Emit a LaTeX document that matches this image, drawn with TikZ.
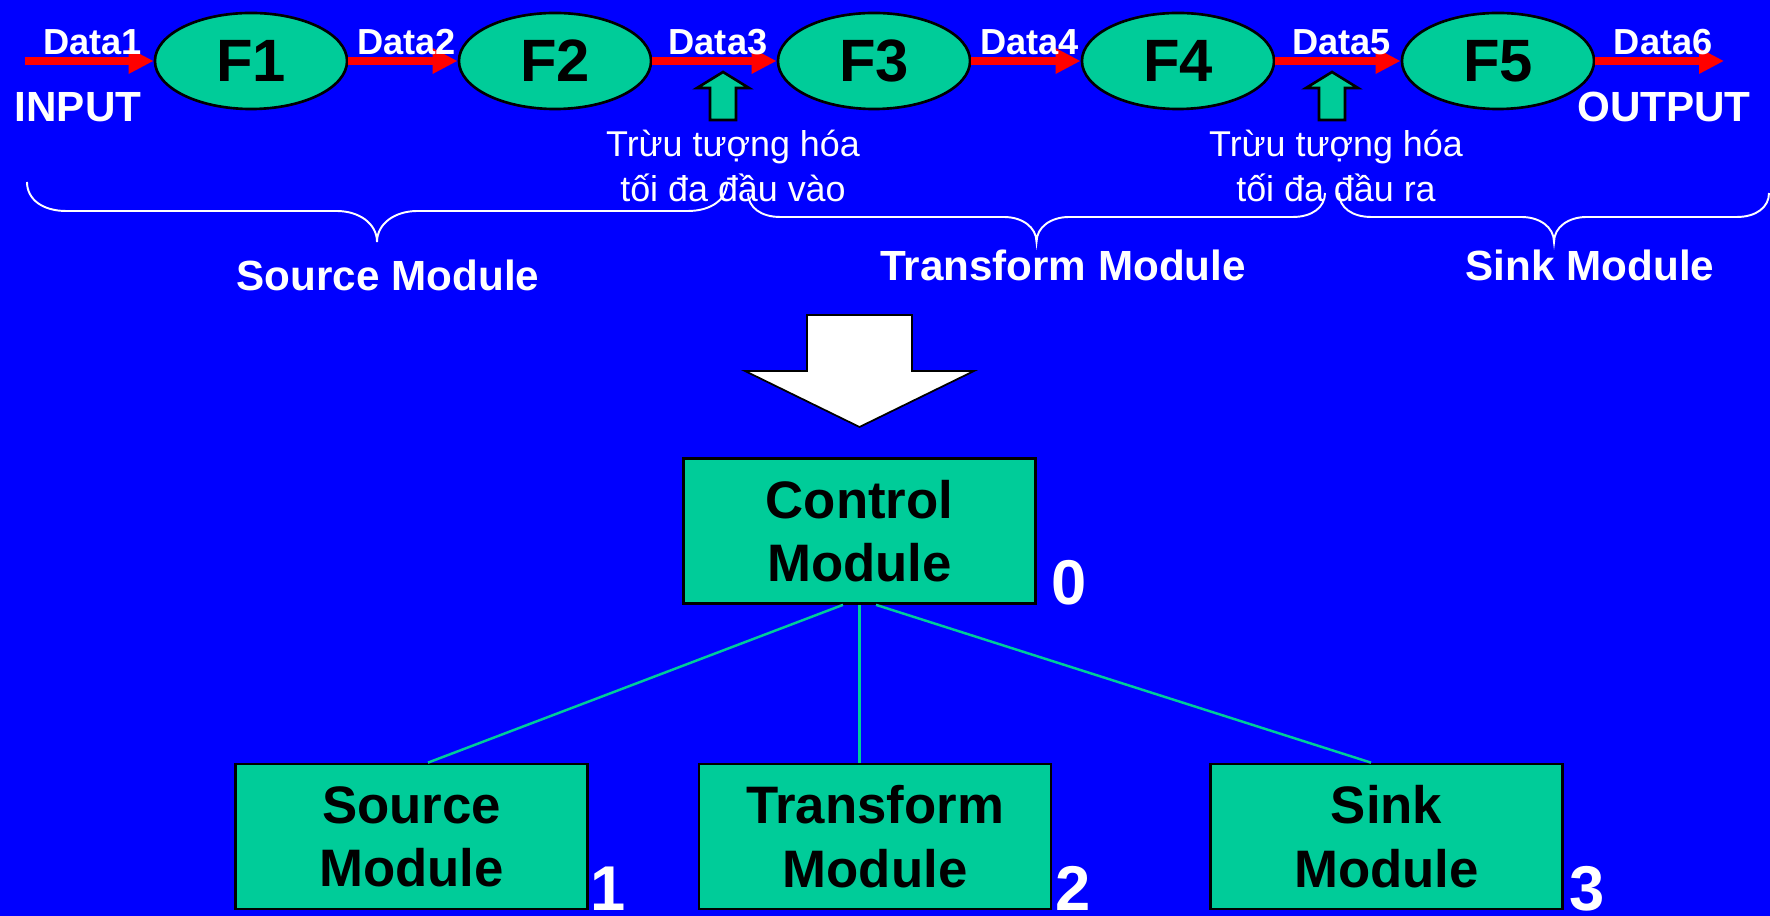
\documentclass[tikz,border=0pt]{standalone}
\usepackage{fontspec}
\setmainfont{Liberation Sans}
\usetikzlibrary{shapes.geometric,arrows.meta,calc}

\definecolor{slideblue}{RGB}{0,0,255}
\definecolor{modgreen}{RGB}{0,204,153}

\tikzset{
  func/.style={ellipse, draw=black, line width=0.75pt, fill=modgreen,
    minimum width=1.92cm, minimum height=0.96cm, inner sep=0pt,
    font=\bfseries\fontsize{17}{20}\selectfont},
  flow/.style={draw=red, line width=2.3pt, -{Triangle[length=7.1pt,width=6.8pt]}},
  datalbl/.style={midway, anchor=south, inner sep=0pt, yshift=0.6pt, xshift=1pt,
    text=white, font=\bfseries\fontsize{10.3}{12}\selectfont},
  iolbl/.style={text=white, inner sep=0pt, font=\bfseries\fontsize{12}{14}\selectfont},
  hintarrow/.style={draw=black, line width=0.75pt, fill=modgreen},
  hint/.style={text=white, align=center, inner sep=0pt,
    font=\fontsize{10.2}{12.8}\selectfont},
  brace line/.style={draw=white, line width=0.55pt},
  modlbl/.style={text=white, inner sep=0pt, font=\bfseries\fontsize{12}{14}\selectfont},
  bigarrow/.style={draw=black, line width=0.5pt, fill=white},
  modbox/.style={rectangle, draw=black, line width=0.75pt, fill=modgreen,
    minimum width=3.52cm, minimum height=1.45cm, align=center, inner sep=0pt,
    font=\bfseries\fontsize{15}{18}\selectfont},
  levelno/.style={anchor=base west, text=white, inner sep=0pt,
    font=\bfseries\fontsize{18}{20}\selectfont},
  link/.style={draw=modgreen, line width=0.7pt}
}

% curly brace under a group of functions: left x, right x, end y, line y, tip y
\newcommand{\modbrace}[5]{%
  \pgfmathsetmacro{\brmid}{(#1+#2)/2}%
  \pgfmathsetmacro{\brend}{1.35*(#4-#3)}%
  \pgfmathsetmacro{\brtip}{1.3*(#5-#4)}%
  \draw[brace line] (#1,#3)
    .. controls (#1,{#3+0.6*(#4-#3)}) and ({#1+0.4*\brend},#4) .. ({#1+\brend},#4)
    -- ({\brmid-\brtip},#4)
    .. controls ({\brmid-0.45*\brtip},#4) and (\brmid,{#4+0.4*(#5-#4)}) .. (\brmid,#5)
    .. controls (\brmid,{#4+0.4*(#5-#4)}) and ({\brmid+0.45*\brtip},#4) .. ({\brmid+\brtip},#4)
    -- ({#2-\brend},#4)
    .. controls ({#2-0.4*\brend},#4) and (#2,{#3+0.6*(#4-#3)}) .. (#2,#3);
}

\begin{document}
\begin{tikzpicture}[x=0.01cm, y=-0.01cm]
  \fill[slideblue] (0,0) rectangle (1770,916);
  \useasboundingbox (0,0) rectangle (1770,916);

  % data flow through the functions
  \node[func] (f1) at (251,61) {F1};
  \node[func] (f2) at (555,61) {F2};
  \node[func] (f3) at (874,61) {F3};
  \node[func] (f4) at (1178,61) {F4};
  \node[func] (f5) at (1498,61) {F5};
  \coordinate (inp) at (25,61);
  \coordinate (outp) at (1724,61);

  \draw[flow] (inp) -- (f1) node[datalbl] {Data1};
  \draw[flow] (f1) -- (f2) node[datalbl] {Data2};
  \draw[flow] (f2) -- (f3) node[datalbl] {Data3};
  \draw[flow] (f3) -- (f4) node[datalbl] {Data4};
  \draw[flow] (f4) -- (f5) node[datalbl] {Data5};
  \draw[flow] (f5) -- (outp) node[datalbl] {Data6};

  \node[iolbl] (input) at (78,107) {INPUT};
  \node[iolbl] (output) at (1664,107) {OUTPUT};

  % points of highest abstraction
  \foreach \ux in {723,1332}
    \draw[hintarrow] ({\ux-13},120) -- ({\ux-13},88) -- ({\ux-26},88) -- (\ux,72)
      -- ({\ux+26},88) -- ({\ux+13},88) -- ({\ux+13},120) -- cycle;
  \node[hint] (absin) at (733,166) {Trừu tượng hóa\\tối đa đầu vào};
  \node[hint] (absout) at (1336,166) {Trừu tượng hóa\\tối đa đầu ra};

  % grouping into modules
  \modbrace{27}{727}{182}{211}{242}
  \modbrace{748}{1325}{193}{217}{242}
  \modbrace{1339}{1769}{193}{217}{242}
  \node[modlbl] (srclbl) at (388,275) {Source Module};
  \node[modlbl] (trnlbl) at (1063,265) {Transform Module};
  \node[modlbl] (snklbl) at (1590,265) {Sink Module};

  \draw[bigarrow] (807,315) -- (912,315) -- (912,371) -- (974,371) -- (859.5,427)
    -- (745,371) -- (807,371) -- cycle;

  % resulting module tree
  \node[modbox] (ctrl) at (859.5,531) {Control\\Module};
  \node[modbox] (src) at (411.5,836.5) {Source\\Module};
  \node[modbox] (trn) at (875,836.5) {Transform\\Module};
  \node[modbox] (snk) at (1386.5,836.5) {Sink\\Module};

  \draw[link] ([xshift=-0.165cm]ctrl.south) -- ([xshift=0.165cm]src.north);
  \draw[link] (ctrl.south) -- (ctrl.south |- trn.north);
  \draw[link] ([xshift=0.165cm]ctrl.south) -- ([xshift=-0.155cm]snk.north);

  \node[levelno] (n0) at ([xshift=0.14cm]ctrl.south east) {0};
  \node[levelno] (n1) at ([xshift=0.01cm]src.south east) {1};
  \node[levelno] (n2) at ([xshift=0.02cm]trn.south east) {2};
  \node[levelno] (n3) at ([xshift=0.045cm]snk.south east) {3};
\end{tikzpicture}
\end{document}
